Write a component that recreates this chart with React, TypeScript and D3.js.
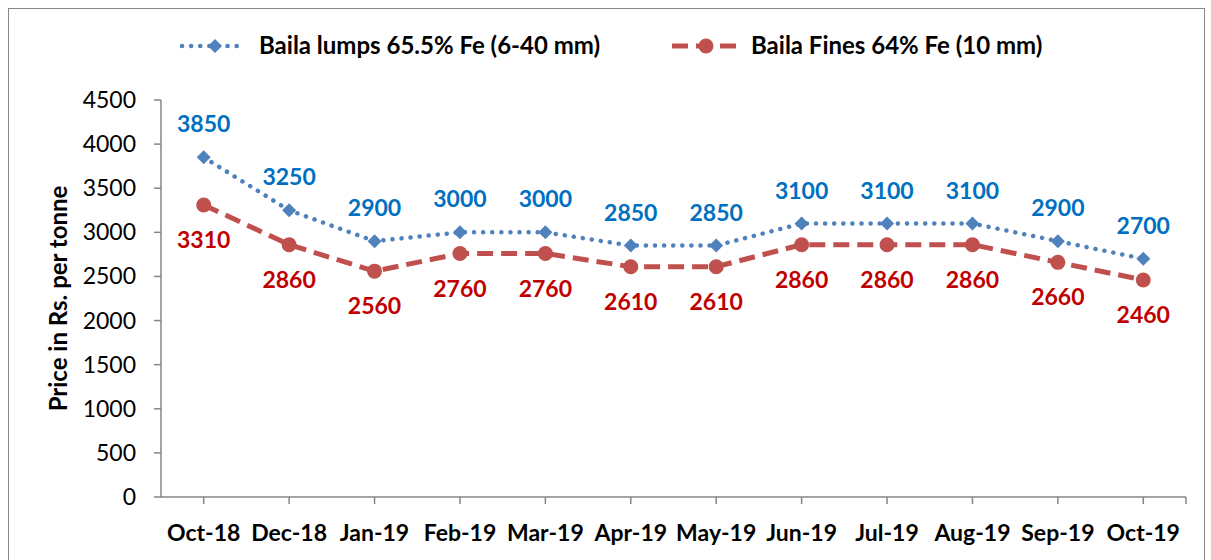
import React from "react";
import * as d3 from "d3";

const categories = ["Oct-18","Dec-18","Jan-19","Feb-19","Mar-19","Apr-19","May-19","Jun-19","Jul-19","Aug-19","Sep-19","Oct-19"];
const lumps = [3850,3250,2900,3000,3000,2850,2850,3100,3100,3100,2900,2700];
const fines = [3310,2860,2560,2760,2760,2610,2610,2860,2860,2860,2660,2460];
const yTicks = [0,500,1000,1500,2000,2500,3000,3500,4000,4500];
const lumpsName = "Baila lumps 65.5% Fe (6-40 mm)";
const finesName = "Baila Fines 64% Fe (10 mm)";

const FONT = "Lato, 'Open Sans', sans-serif";

export default function App() {
  const W = 1211, H = 560;
  const left = 161, right = 1186, top = 100, bottom = 497;
  const x = d3.scaleBand<string>().domain(categories).range([left, right]).padding(0);
  const cx = (c: string) => (x(c) as number) + x.bandwidth() / 2;
  const y = d3.scaleLinear().domain([0, 4500]).range([bottom, top]);
  const line = d3.line<number>().x((_, i) => cx(categories[i])).y(d => y(d));
  const blue = "#4F81BD", blueText = "#0070C0", red = "#C0504D", redText = "#C00000";
  const axisColor = "#868686";
  const diamond = (px: number, py: number, s: number) => `M${px},${py - s}L${px + s},${py}L${px},${py + s}L${px - s},${py}Z`;

  return (
    <svg width={W} height={H} style={{ position: "absolute", left: 0, top: 0, display: "block" }}>
      <rect x={0} y={0} width={W} height={H} fill="#fff" />
      <rect x={8.5} y={8.5} width={1196} height={570} fill="none" stroke={axisColor} strokeWidth={1} />
      {/* axes */}
      <line x1={left} x2={left} y1={top} y2={bottom} stroke={axisColor} strokeWidth={1.5} />
      <line x1={left} x2={right} y1={bottom} y2={bottom} stroke={axisColor} strokeWidth={1.5} />
      {yTicks.map(t => (
        <g key={t}>
          <line x1={left - 7} x2={left} y1={y(t)} y2={y(t)} stroke={axisColor} strokeWidth={1.5} />
          <text x={136} y={y(t)} dy="0.35em" textAnchor="end" fontFamily={FONT} fontSize={23} fill="#000">{t}</text>
        </g>
      ))}
      {categories.map(c => (
        <g key={c}>
          <line x1={cx(c)} x2={cx(c)} y1={bottom} y2={bottom + 7} stroke={axisColor} strokeWidth={1.5} />
          <text x={cx(c)} y={541} textAnchor="middle" fontFamily={FONT} fontWeight="bold" fontSize={23} fill="#000">{c}</text>
        </g>
      ))}
      <line x1={right} x2={right} y1={bottom} y2={bottom + 7} stroke={axisColor} strokeWidth={1.5} />
      <text transform={`translate(67,${(top + bottom) / 2})rotate(-90)`} textAnchor="middle" fontFamily={FONT} fontWeight="bold" fontSize={24} fill="#000">Price in Rs. per tonne</text>

      {/* lines */}
      <path d={line(fines) || ""} fill="none" stroke={red} strokeWidth={5} strokeDasharray="16 8" />
      <path d={line(lumps) || ""} fill="none" stroke={blue} strokeWidth={4.5} strokeDasharray="0.1 9" strokeLinecap="round" />
      {fines.map((v, i) => (
        <circle key={"f" + i} cx={cx(categories[i])} cy={y(v)} r={7.5} fill={red} />
      ))}
      {lumps.map((v, i) => (
        <path key={"l" + i} d={diamond(cx(categories[i]), y(v), 7)} fill={blue} />
      ))}
      {lumps.map((v, i) => (
        <text key={"lt" + i} x={cx(categories[i])} y={y(v) - 25} textAnchor="middle" fontFamily={FONT} fontWeight="bold" fontSize={23} fill={blueText}>{v}</text>
      ))}
      {fines.map((v, i) => (
        <text key={"ft" + i} x={cx(categories[i])} y={y(v) + 43} textAnchor="middle" fontFamily={FONT} fontWeight="bold" fontSize={23} fill={redText}>{v}</text>
      ))}

      {/* legend */}
      <line x1={182} x2={245} y1={46} y2={46} stroke={blue} strokeWidth={4.5} strokeDasharray="0.1 9" strokeLinecap="round" />
      <path d={diamond(215, 46, 7)} fill={blue} />
      <text x={259} y={46} dy="0.35em" fontFamily={FONT} fontWeight="bold" fontSize={24} fill="#000">{lumpsName}</text>
      <line x1={672} x2={738} y1={46} y2={46} stroke={red} strokeWidth={5} strokeDasharray="16 8" />
      <circle cx={706} cy={46} r={7.5} fill={red} />
      <text x={751} y={46} dy="0.35em" fontFamily={FONT} fontWeight="bold" fontSize={24} fill="#000">{finesName}</text>
    </svg>
  );
}
